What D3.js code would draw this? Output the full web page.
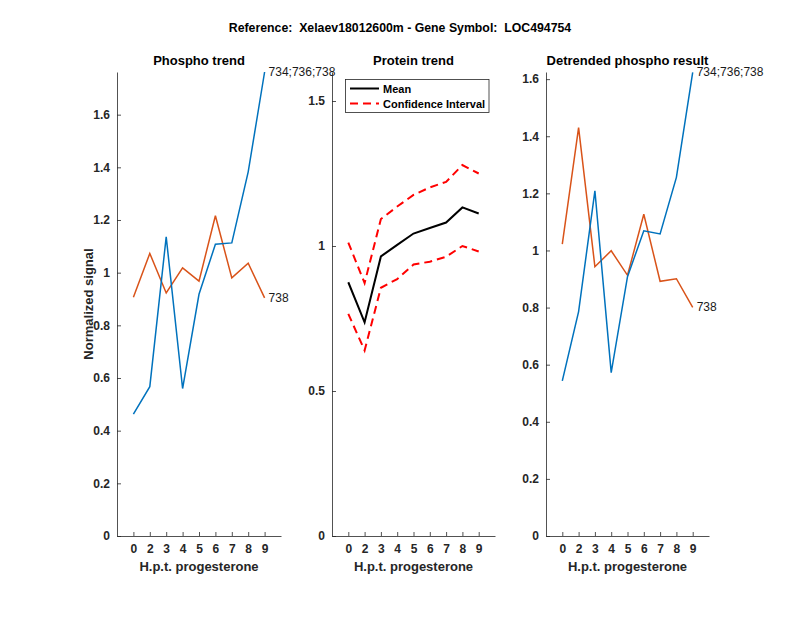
<!DOCTYPE html>
<html>
<head>
<meta charset="utf-8">
<script src="https://cdn.jsdelivr.net/npm/d3@7"></script>
<style>
  body { margin: 0; background: #fff; }
  text { font-family: "Liberation Sans", Arial, sans-serif; }
</style>
</head>
<body>
<svg></svg>
<script>
// размеры окна
const width = 800;
const height = 618;
let svg = d3.select("svg")
  .attr("width", width)
  .attr("height", height);

// данные
const hours = ["0", "2", "3", "4", "5", "6", "7", "8", "9"];
const phosphoBlue = [0.463, 0.567, 1.136, 0.560, 0.918, 1.108, 1.113, 1.383, 1.762];
const phosphoOrange = [0.907, 1.073, 0.923, 1.018, 0.968, 1.216, 0.980, 1.036, 0.904];
const proteinMean = [0.875, 0.737, 0.964, 1.004, 1.043, 1.062, 1.081, 1.133, 1.112];
const proteinUpper = [1.012, 0.872, 1.093, 1.136, 1.176, 1.202, 1.221, 1.279, 1.250];
const proteinLower = [0.766, 0.640, 0.856, 0.886, 0.936, 0.946, 0.963, 1.000, 0.981];
const detrBlue = [0.543, 0.786, 1.209, 0.572, 0.908, 1.069, 1.058, 1.256, 1.624];
const detrOrange = [1.022, 1.430, 0.943, 0.999, 0.913, 1.127, 0.892, 0.901, 0.801];
const leftTicks = [0, 0.2, 0.4, 0.6, 0.8, 1, 1.2, 1.4, 1.6];
const midTicks = [0, 0.5, 1, 1.5];
const rightTicks = [0, 0.2, 0.4, 0.6, 0.8, 1, 1.2, 1.4, 1.6];
const seriesLabels = ["734;736;738", "738"];

const blue = "#0072BD";
const orange = "#D95319";
const axisCol = "#262626";
const plotTop = 72, plotBottom = 536;

// общий заголовок (двойные пробелы сохраняем)
svg.append("text")
  .attr("x", 400).attr("y", 32)
  .attr("text-anchor", "middle")
  .style("white-space", "pre")
  .style("font-size", "12.3px").style("font-weight", "bold")
  .text("Reference:  Xelaev18012600m - Gene Symbol:  LOC494754");

// рисуем одну панель
function drawPanel(x0, x1, yMax, ticks, title, fmt) {
  let g = svg.append("g");
  let x = d3.scaleLinear().domain([0, hours.length + 1]).range([x0, x1]);
  let y = d3.scaleLinear().domain([0, yMax]).range([plotBottom, plotTop]);

  // ось x
  let xa = g.append("g").attr("transform", `translate(0,${plotBottom})`)
    .call(d3.axisBottom(x).tickValues(d3.range(1, hours.length + 1))
      .tickFormat((d) => hours[d - 1]).tickSizeInner(-4).tickSizeOuter(0).tickPadding(8));
  // ось y
  let ya = g.append("g").attr("transform", `translate(${x0},0)`)
    .call(d3.axisLeft(y).tickValues(ticks).tickFormat(fmt)
      .tickSizeInner(-4).tickSizeOuter(0).tickPadding(7));
  [xa, ya].forEach((a) => {
    a.select(".domain").attr("stroke", axisCol).attr("stroke-width", 0.8);
    a.selectAll(".tick line").attr("stroke", axisCol).attr("stroke-width", 0.8);
    a.selectAll(".tick text").attr("fill", axisCol)
      .style("font-size", "12px").style("font-weight", "bold")
      .style("font-family", "'Liberation Sans', Arial, sans-serif");
  });

  g.append("text")
    .attr("x", (x0 + x1) / 2).attr("y", 65)
    .attr("text-anchor", "middle")
    .style("font-size", "13px").style("font-weight", "bold")
    .text(title);

  g.append("text")
    .attr("x", (x0 + x1) / 2).attr("y", 571)
    .attr("text-anchor", "middle")
    .attr("fill", axisCol)
    .style("font-size", "13px").style("font-weight", "bold")
    .text("H.p.t. progesterone");

  let line = d3.line()
    .x((d, i) => x(i + 1))
    .y((d) => y(d));

  return { g: g, x: x, y: y, line: line };
}

// левая панель
let p1 = drawPanel(117, 281, 1.762, leftTicks, "Phospho trend", d3.format("~g"));
p1.g.append("path").attr("d", p1.line(phosphoOrange))
  .attr("fill", "none").attr("stroke", orange).attr("stroke-width", 1.5);
p1.g.append("path").attr("d", p1.line(phosphoBlue))
  .attr("fill", "none").attr("stroke", blue).attr("stroke-width", 1.5);
p1.g.append("text")
  .attr("x", p1.x(hours.length) + 4).attr("y", p1.y(phosphoBlue[8]) + 4)
  .style("font-size", "12px").attr("fill", "#1a1a1a")
  .text(seriesLabels[0]);
p1.g.append("text")
  .attr("x", p1.x(hours.length) + 4).attr("y", p1.y(phosphoOrange[8]) + 4)
  .style("font-size", "12px").attr("fill", "#1a1a1a")
  .text(seriesLabels[1]);
svg.append("text")
  .attr("transform", "translate(93,304) rotate(-90)")
  .attr("text-anchor", "middle")
  .attr("fill", axisCol)
  .style("font-size", "13px").style("font-weight", "bold")
  .text("Normalized signal");

// средняя панель
let p2 = drawPanel(332, 495, 1.6, midTicks, "Protein trend", d3.format("~g"));
p2.g.append("path").attr("d", p2.line(proteinUpper))
  .attr("fill", "none").attr("stroke", "#ff0000").attr("stroke-width", 2)
  .attr("stroke-dasharray", "8,5");
p2.g.append("path").attr("d", p2.line(proteinLower))
  .attr("fill", "none").attr("stroke", "#ff0000").attr("stroke-width", 2)
  .attr("stroke-dasharray", "8,5");
p2.g.append("path").attr("d", p2.line(proteinMean))
  .attr("fill", "none").attr("stroke", "#000").attr("stroke-width", 2);

// легенда
let leg = p2.g.append("g");
leg.append("rect")
  .attr("x", 345.5).attr("y", 79.5).attr("width", 143.5).attr("height", 33)
  .attr("fill", "#fff").attr("stroke", axisCol).attr("stroke-width", 0.8);
leg.append("line").attr("x1", 350).attr("x2", 379).attr("y1", 88.5).attr("y2", 88.5)
  .attr("stroke", "#000").attr("stroke-width", 2);
leg.append("line").attr("x1", 350).attr("x2", 379).attr("y1", 103.5).attr("y2", 103.5)
  .attr("stroke", "#ff0000").attr("stroke-width", 2).attr("stroke-dasharray", "8,5");
leg.append("text").attr("x", 383).attr("y", 92.5)
  .style("font-size", "11px").style("font-weight", "bold").text("Mean");
leg.append("text").attr("x", 383).attr("y", 107.5)
  .style("font-size", "11px").style("font-weight", "bold").text("Confidence Interval");

// правая панель
let p3 = drawPanel(546, 709, 1.625, rightTicks, "Detrended phospho result", d3.format("~g"));
p3.g.append("path").attr("d", p3.line(detrOrange))
  .attr("fill", "none").attr("stroke", orange).attr("stroke-width", 1.5);
p3.g.append("path").attr("d", p3.line(detrBlue))
  .attr("fill", "none").attr("stroke", blue).attr("stroke-width", 1.5);
p3.g.append("text")
  .attr("x", p3.x(hours.length) + 4).attr("y", p3.y(detrBlue[8]) + 4)
  .style("font-size", "12px").attr("fill", "#1a1a1a")
  .text(seriesLabels[0]);
p3.g.append("text")
  .attr("x", p3.x(hours.length) + 4).attr("y", p3.y(detrOrange[8]) + 4)
  .style("font-size", "12px").attr("fill", "#1a1a1a")
  .text(seriesLabels[1]);
</script>
</body>
</html>
